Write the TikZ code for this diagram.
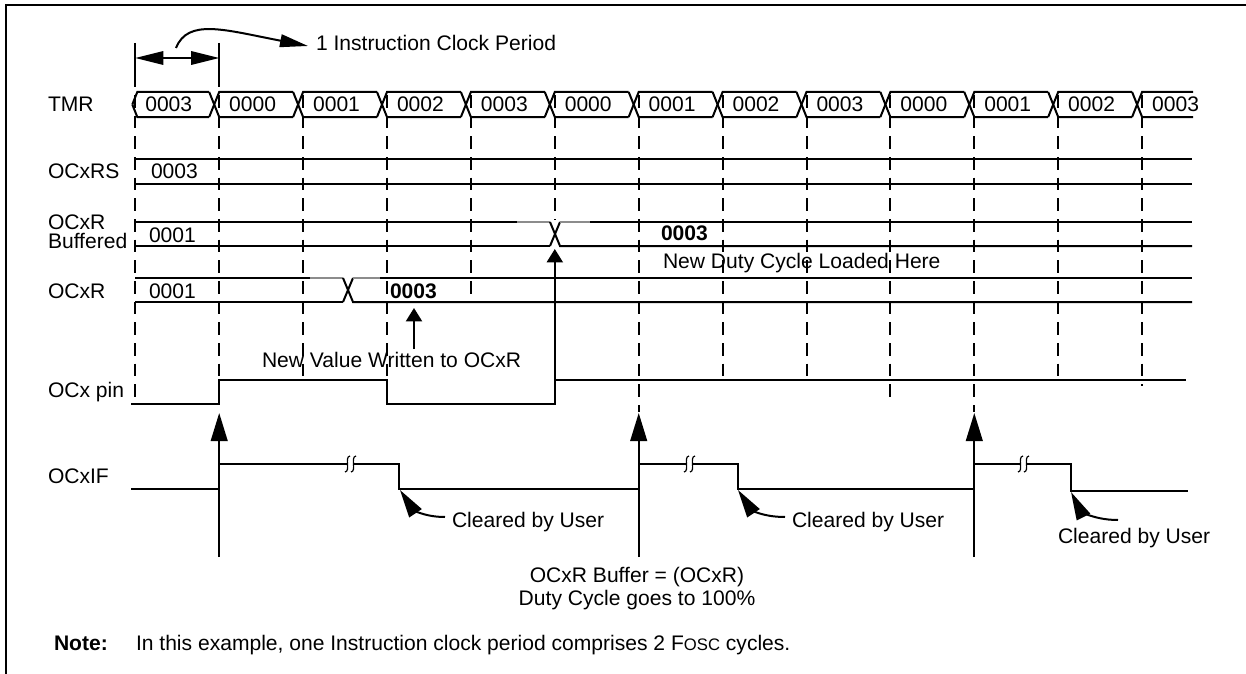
\documentclass[tikz,border=0pt]{standalone}
\usepackage{fontspec}
\setmainfont{Liberation Sans}
\usetikzlibrary{arrows.meta}
\newcommand\fsz{\fontsize{15.8pt}{18pt}\selectfont}
\begin{document}
\begin{tikzpicture}[x=0.75pt,y=-0.75pt,line width=1.5pt,line join=miter,
  txt/.style={inner sep=0pt,anchor=base west,font=\fsz},
  txtc/.style={inner sep=0pt,anchor=base,font=\fsz},
  btxt/.style={inner sep=0pt,anchor=base west,font=\fsz\bfseries},
  gridline/.style={line width=1.5pt,dash pattern=on 9.5pt off 6pt},
  faint/.style={draw=black!45,line width=1.2pt},
  bigup/.style={-{Triangle[length=21pt,width=12.5pt]}},
  smallup/.style={-{Triangle[length=10pt,width=12pt]}},
  clr/.style={{Triangle[length=21pt,width=11pt]}-},
  squig/.style={line width=0.9pt}]
\useasboundingbox (0,0) rectangle (1246,674);
% frame
\draw[line width=1.5pt] (6,674) -- (6,5) -- (1246,5);

% labels
\node[txt] (lTMR) at (47,112) {TMR};
\node[txt] (lRS) at (47,178) {OCxRS};
\node[txt,text depth=0pt] (lBa) at (47,229) {OCxR};
\node[txt,text height=10.5pt] (lBb) at (47,248) {Buffered};
\node[txt] (lR) at (47,298) {OCxR};
\node[txt] (lPin) at (47,397) {OCx pin};
\node[txt] (lIF) at (47,483) {OCxIF};

% clock period marker
\draw (135.3,43) -- (135.3,87);
\draw (219.2,43) -- (219.2,87);
\coordinate (pL) at (135.3,58);
\coordinate (pR) at (219.2,58);
\draw[{Triangle[length=21pt,width=10pt]}-{Triangle[length=21pt,width=10pt]}] (pL) -- (pR);
\node[txt] (period) at (315,51) {1 Instruction Clock Period};
\coordinate (cs) at (176,48);
\coordinate (ce) at (308,46);
\draw[-{Triangle[length=21pt,width=9.5pt]}] (cs) .. controls (188,18) and (225,30) .. (ce);

% dashed grid lines
\foreach \k/\e in {0/404,1/380,2/380,3/380,4/303,5/220,6/412,7/380,8/380,9/402,10/412,11/380,12/386}{
  \draw[gridline] ({135.3+83.9*\k},95) -- ({135.3+83.9*\k},\e);
}

% TMR bus
\draw (132.3,104.5) -- (137.3,92) -- ({135.3+83.9-10},92);
\draw (132.3,104.5) -- (137.3,117) -- ({135.3+83.9-10},117);
\foreach \k in {1,...,11}{
  \draw ({135.3+83.9*\k-10},92) -- ({135.3+83.9*\k},117) -- ({135.3+83.9*(\k+1)-10},117);
  \draw ({135.3+83.9*\k-10},117) -- ({135.3+83.9*\k},92) -- ({135.3+83.9*(\k+1)-10},92);
}
\draw ({135.3+83.9*12-10},92) -- ({135.3+83.9*12},117) -- (1193,117);
\draw ({135.3+83.9*12-10},117) -- ({135.3+83.9*12},92) -- (1193,92);
\foreach \k/\v in {0/0003,1/0000,2/0001,3/0002,4/0003,5/0000,6/0001,7/0002,8/0003,9/0000,10/0001,11/0002,12/0003}{
  \node[txt] (t\k) at ({135.3+83.9*\k+9},112) {\v};
}

% OCxRS
\draw (135.3,159) -- (1192,159);
\draw (135.3,184) -- (1192,184);
\node[txt] (vRS) at (150,178) {0003};

% OCxR Buffered
\draw (135.3,222) -- (517,222);
\draw[faint] (517,222) -- (550,222);
\draw (550,222) -- (560,246) -- (1192,246);
\draw (550,246) -- (560,222);
\draw (135.3,246) -- (550,246);
\draw[faint] (560,222) -- (590,222);
\draw (590,222) -- (1192,222);
\node[txt] (vB1) at (148,242) {0001};
\node[btxt] (vB2) at (660,240) {0003};
\node[txt] (ndc) at (662,268) {New Duty Cycle Loaded Here};

% OCxR
\draw (135.3,278) -- (310,278);
\draw[faint] (310,278) -- (343,278);
\draw (343,278) -- (353,302) -- (1192,302);
\draw (343,302) -- (353,278);
\draw (135.3,302) -- (343,302);
\draw[faint] (353,278) -- (380,278);
\draw (380,278) -- (1192,278);
\node[txt] (vR1) at (148,298) {0001};
\node[btxt] (vR2) at (389,298) {0003};
\node[txt] (nvw) at (261,367) {New Value Written to OCxR};
\coordinate (nvwA) at (414,349);
\coordinate (nvwT) at (414,308);
\draw[smallup] (nvwA) -- (nvwT);

% OCx pin
\draw (131,404) -- (219.2,404) -- (219.2,380) -- (387,380) -- (387,404) -- (554.8,404) -- (554.8,380) -- (1186,380);
\coordinate (bufA) at (554.8,404);
\coordinate (bufT) at (554.8,249);
\draw[smallup] (bufA) -- (bufT);

% big arrows
\foreach \xx/\nm in {219.2/a1,638.7/a2,974.3/a3}{
  \coordinate (\nm) at (\xx,557);
  \coordinate (\nm t) at (\xx,413);
  \draw[bigup] (\nm) -- (\nm t);
}

% OCxIF waveform
\draw (131,489) -- (219.2,489) -- (219.2,464) -- (348,464);
\draw (354,464) -- (399,464) -- (399,489) -- (638.7,489) -- (638.7,464) -- (687,464);
\draw (693,464) -- (738,464) -- (738,489) -- (974.3,489) -- (974.3,464) -- (1021,464);
\draw (1027,464) -- (1071,464) -- (1071,491) -- (1188,491);
\foreach \s in {345,684,1018}{
  \draw[squig] (\s,472) .. controls (\s+6,471) and (\s-1,457) .. (\s+5,456);
  \draw[squig] (\s+6,472) .. controls (\s+12,471) and (\s+5,457) .. (\s+11,456);
}

% cleared by user
\node[txt] (cl1) at (451,527) {Cleared by User};
\coordinate (c1) at (400,490);
\coordinate (c1e) at (445,517);
\draw[clr] (c1) .. controls (412,508) and (422,517) .. (c1e);
\node[txt] (cl2) at (791,527) {Cleared by User};
\coordinate (c2) at (738,490);
\coordinate (c2e) at (785,517);
\draw[clr] (c2) .. controls (750,508) and (760,517) .. (c2e);
\node[txt] (cl3) at (1057,543) {Cleared by User};
\coordinate (c3) at (1071,492);
\coordinate (c3e) at (1118,520);
\draw[clr] (c3) .. controls (1079,508) and (1090,520) .. (c3e);

% buffer note
\node[txtc] (bn1) at (637,582) {OCxR Buffer = (OCxR)};
\node[txtc] (bn2) at (637,605) {Duty Cycle goes to 100\%};

% note
\node[inner sep=0pt,anchor=base west,font=\fsz\bfseries] (note) at (53,650) {Note:};
\node[txt] (notetxt) at (135,650) {In this example, one Instruction clock period comprises 2 F{\fontsize{12.5pt}{14pt}\selectfont OSC} cycles.};
\end{tikzpicture}
\end{document}
